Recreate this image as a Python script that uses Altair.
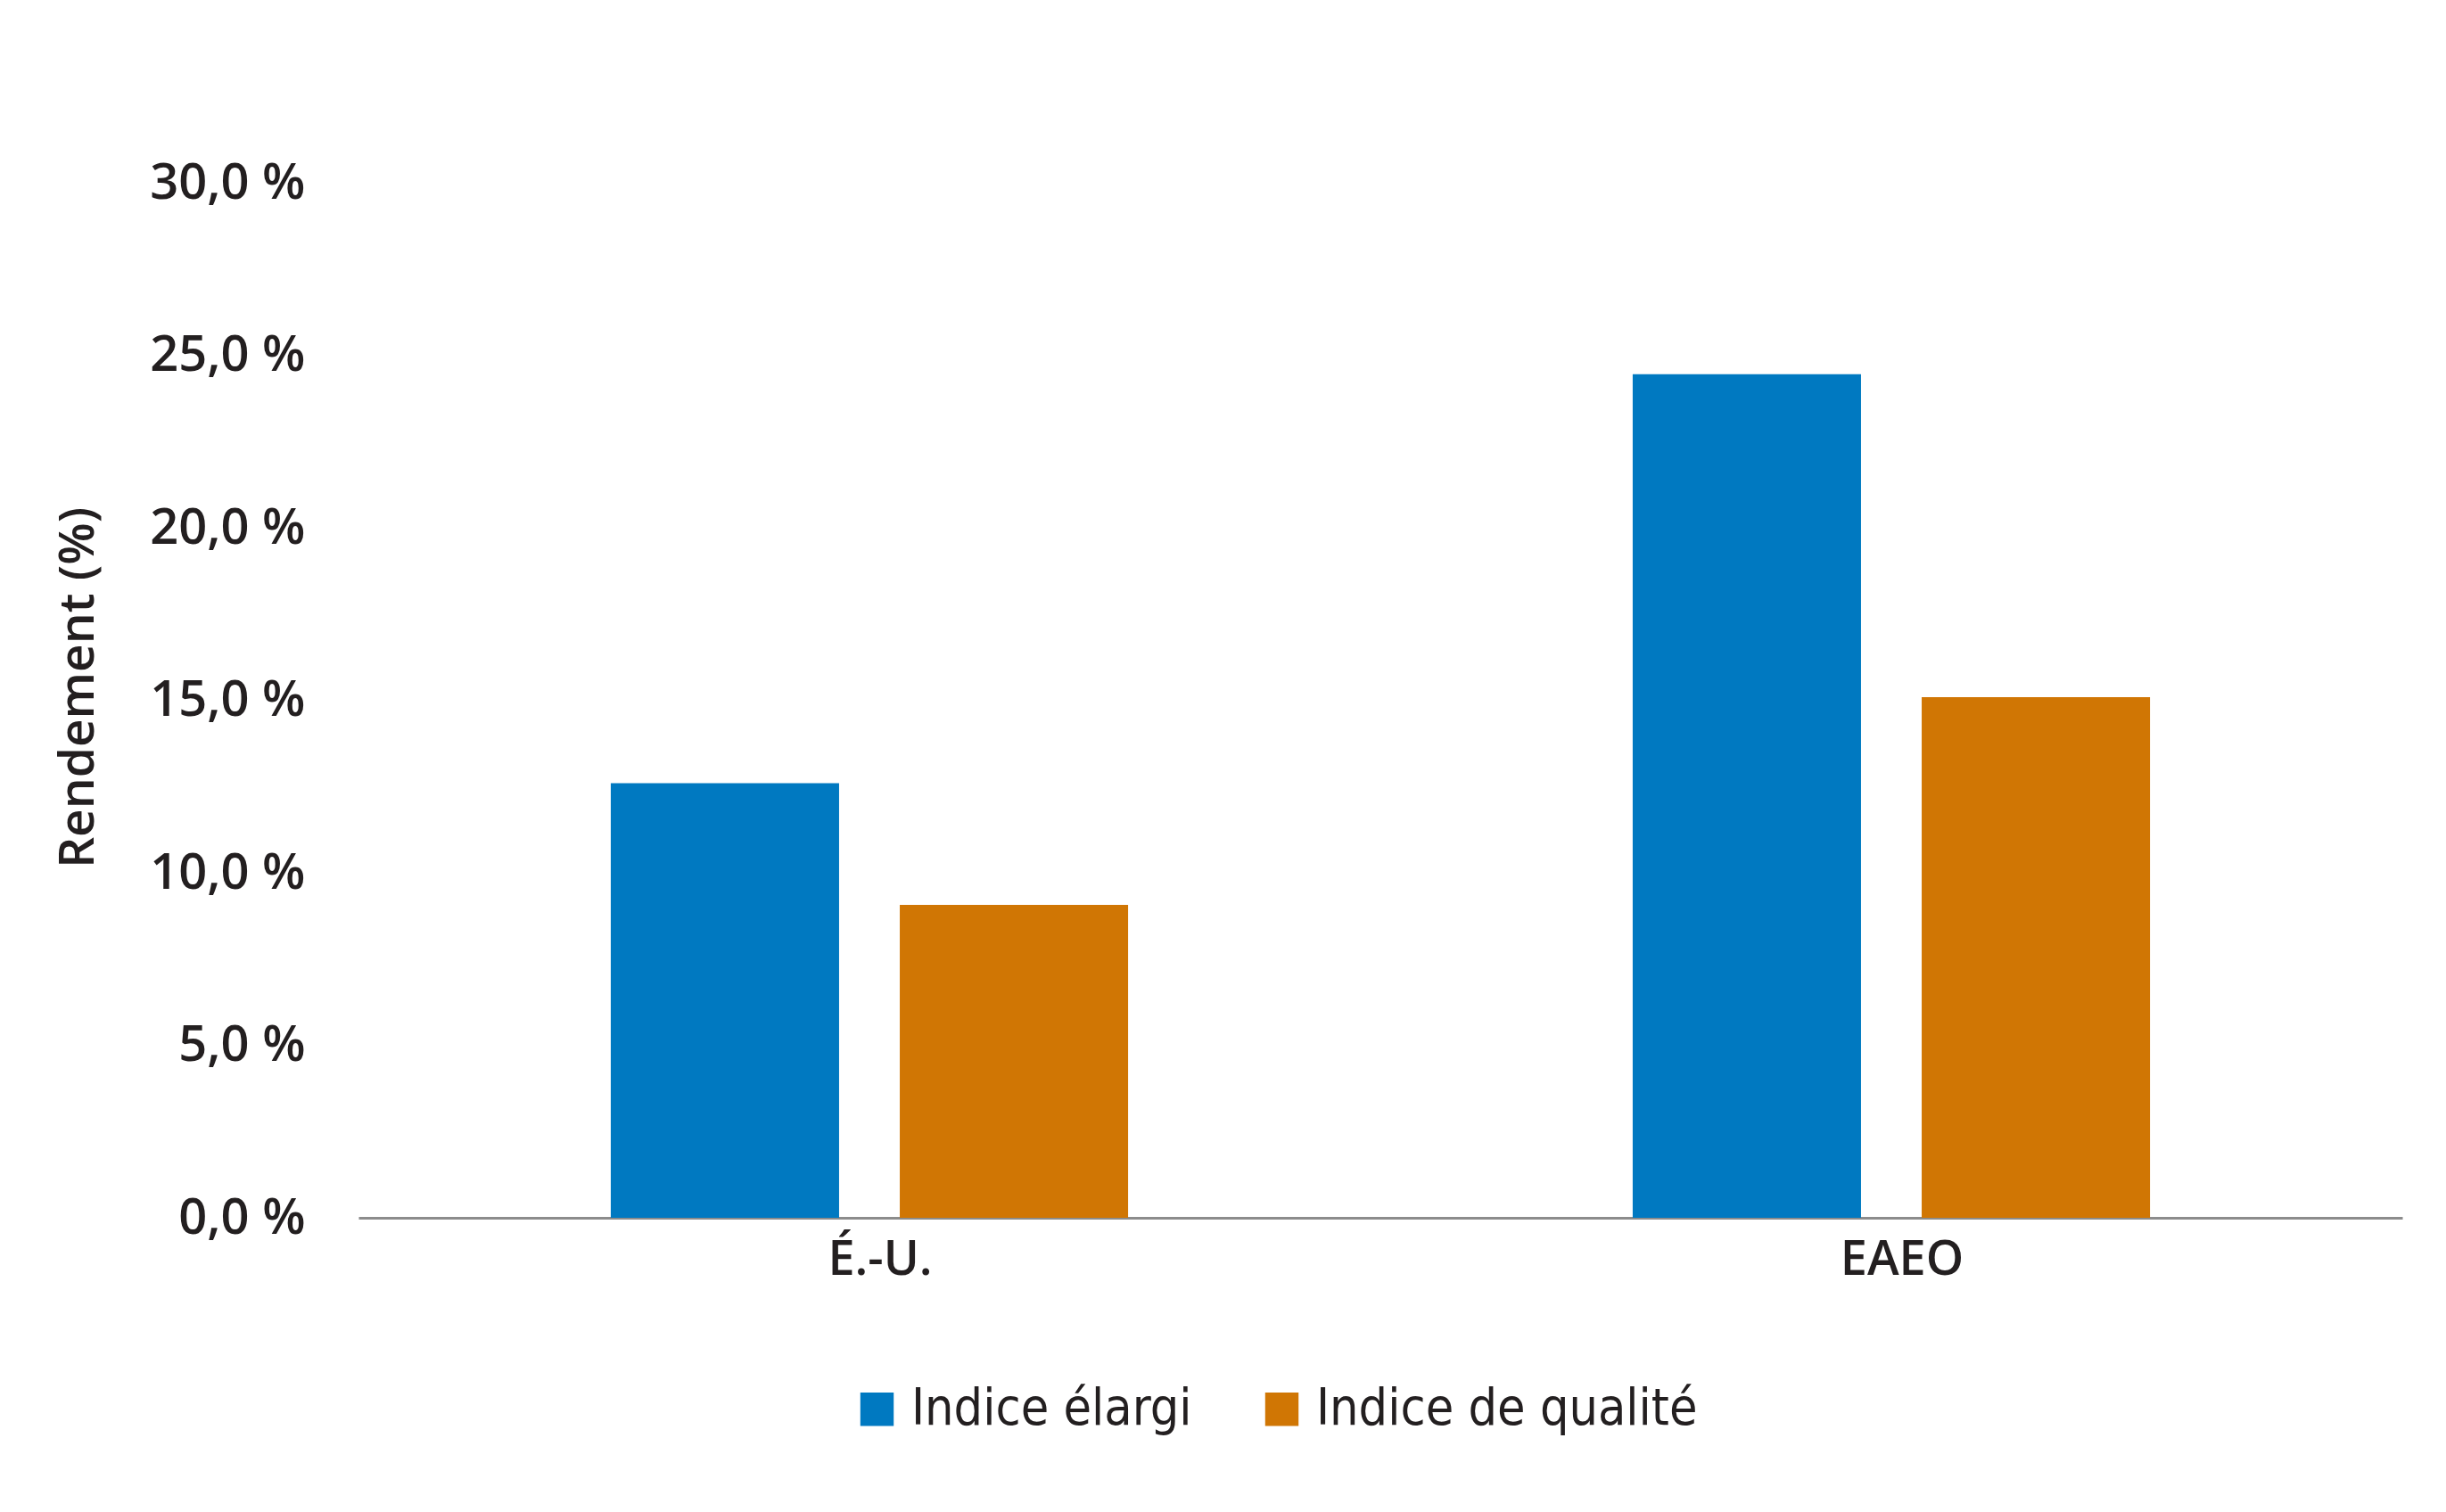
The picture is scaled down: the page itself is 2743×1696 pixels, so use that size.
import altair as alt
import pandas as pd

regions = ["É.-U.", "EAEO"]
series = ["Indice élargi", "Indice de qualité"]
elargi = [12.6, 24.45]
qualite = [9.07, 15.09]
colors = ["#0079C1", "#D07604"]

rows = []
for i, r in enumerate(regions):
    rows.append({"Région": r, "Indice": series[0], "Rendement": elargi[i]})
    rows.append({"Région": r, "Indice": series[1], "Rendement": qualite[i]})
df = pd.DataFrame(rows)

label_font = "Open Sans"
legend_font = "DejaVu Sans Condensed, Roboto"

chart = alt.Chart(df).mark_bar().encode(
    x=alt.X("Région:N", sort=regions, title=None,
            scale=alt.Scale(paddingInner=0, paddingOuter=0),
            axis=alt.Axis(labelAngle=0, ticks=False, domainColor="#8c8c8c", domainWidth=3,
                          labelFont=label_font, labelFontSize=54, labelFontWeight=600,
                          labelColor="#231f20", labelPadding=20, labelOffset=12)),
    xOffset=alt.XOffset("Indice:N", sort=series,
                        scale=alt.Scale(paddingInner=0.21, paddingOuter=0.873)),
    y=alt.Y("Rendement:Q", title="Rendement (%)",
            scale=alt.Scale(domain=[0, 30]),
            axis=alt.Axis(values=[0, 5, 10, 15, 20, 25, 30], grid=False, ticks=False, domain=False,
                          labelExpr="replace(format(datum.value, '.1f'), '.', ',') + ' %'",
                          labelFont=label_font, labelFontSize=56, labelFontWeight=600,
                          labelColor="#231f20", labelPadding=60, labelLimit=500,
                          titleFont=label_font, titleFontSize=55, titleFontWeight=600,
                          titleColor="#231f20", titlePadding=86, titleY=566)),
    color=alt.Color("Indice:N", sort=series,
                    scale=alt.Scale(domain=series, range=colors),
                    legend=alt.Legend(title=None, orient="none", direction="horizontal",
                                      legendX=553, legendY=1347,
                                      symbolType="square", symbolSize=1400, symbolStrokeWidth=0,
                                      symbolOpacity=1,
                                      labelFont=legend_font, labelFontSize=57, labelColor="#231f20",
                                      labelOffset=10, columnPadding=72, labelLimit=800)),
).properties(
    width=2292, height=1161,
    padding={"left": 394, "top": 197, "right": 40, "bottom": 320},
    autosize=alt.AutoSizeParams(type="none"),
).configure(background="white").configure_view(stroke=None, strokeWidth=0)

chart.save("out.html", embed_options={"renderer": "svg", "actions": False})
